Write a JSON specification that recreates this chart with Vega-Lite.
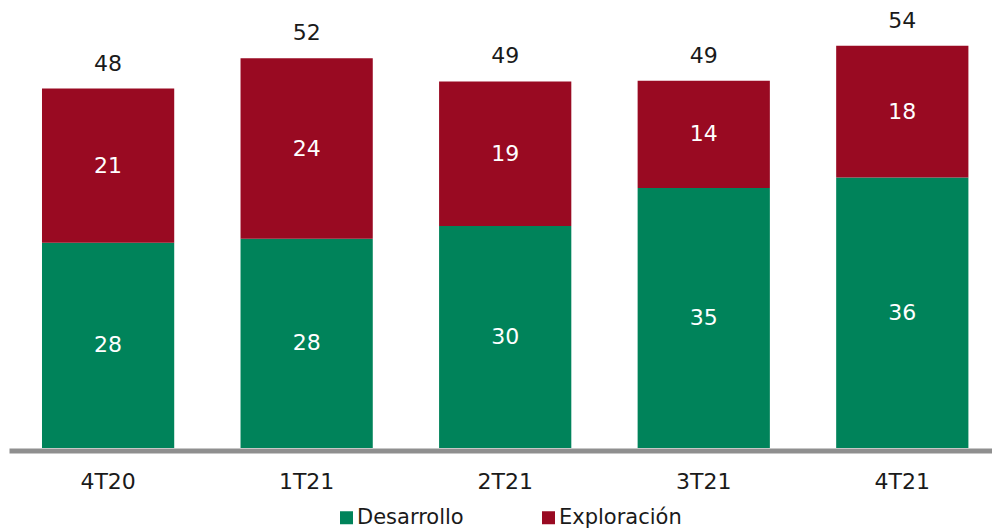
{
  "$schema": "https://vega.github.io/schema/vega-lite/v6.json",
  "width": 983,
  "height": 447,
  "autosize": {"type": "none"},
  "padding": {"left": 9, "top": 1, "right": 0, "bottom": 83},
  "background": "white",
  "config": {"view": {"stroke": null}, "font": "DejaVu Sans"},
  "data": {
    "values": [
      {"periodo": "4T20", "tipo": "Desarrollo", "valor": 27.55},
      {"periodo": "4T20", "tipo": "Exploración", "valor": 20.7},
      {"periodo": "1T21", "tipo": "Desarrollo", "valor": 28.1},
      {"periodo": "1T21", "tipo": "Exploración", "valor": 24.2},
      {"periodo": "2T21", "tipo": "Desarrollo", "valor": 29.8},
      {"periodo": "2T21", "tipo": "Exploración", "valor": 19.4},
      {"periodo": "3T21", "tipo": "Desarrollo", "valor": 34.9},
      {"periodo": "3T21", "tipo": "Exploración", "valor": 14.4},
      {"periodo": "4T21", "tipo": "Desarrollo", "valor": 36.3},
      {"periodo": "4T21", "tipo": "Exploración", "valor": 17.7}
    ]
  },
  "encoding": {
    "x": {
      "field": "periodo",
      "type": "nominal",
      "sort": ["4T20", "1T21", "2T21", "3T21", "4T21"],
      "scale": {"paddingInner": 0.334, "paddingOuter": 0.1425, "align": 0.583},
      "axis": {
        "title": null,
        "labelAngle": 0,
        "ticks": false,
        "domainColor": "#8f8f8f",
        "domainWidth": 5,
        "offset": 2.5,
        "labelFontSize": 22,
        "labelColor": "#1a1a1a",
        "labelBaseline": "middle",
        "labelPadding": 31
      }
    }
  },
  "layer": [
    {
      "mark": {"type": "bar"},
      "encoding": {
        "y": {"field": "valor", "type": "quantitative", "stack": "zero", "scale": {"domain": [0, 60]}, "axis": null},
        "order": {"field": "tipo", "type": "nominal", "sort": "ascending"},
        "color": {
          "field": "tipo",
          "type": "nominal",
          "scale": {"domain": ["Desarrollo", "Exploración"], "range": ["#00835A", "#990A22"]},
          "legend": {
            "title": null,
            "orient": "none",
            "legendX": 327,
            "legendY": 506,
            "direction": "horizontal",
            "symbolType": "square",
            "symbolSize": 169,
            "symbolStrokeWidth": 0,
            "labelFontSize": 21,
            "labelColor": "#1a1a1a",
            "labelOffset": 0,
            "columnPadding": 74
          }
        }
      }
    },
    {
      "mark": {"type": "text", "color": "white", "fontSize": 22, "baseline": "middle"},
      "encoding": {
        "y": {"field": "valor", "type": "quantitative", "stack": "zero", "bandPosition": 0.5},
        "order": {"field": "tipo", "type": "nominal", "sort": "ascending"},
        "detail": {"field": "tipo"},
        "text": {"field": "valor", "type": "quantitative", "format": ".0f"}
      }
    },
    {
      "transform": [{"aggregate": [{"op": "sum", "field": "valor", "as": "total"}], "groupby": ["periodo"]}],
      "mark": {"type": "text", "color": "#1a1a1a", "fontSize": 22, "baseline": "middle", "dy": -25},
      "encoding": {
        "y": {"field": "total", "type": "quantitative"},
        "text": {"field": "total", "type": "quantitative", "format": ".0f"}
      }
    }
  ]
}
